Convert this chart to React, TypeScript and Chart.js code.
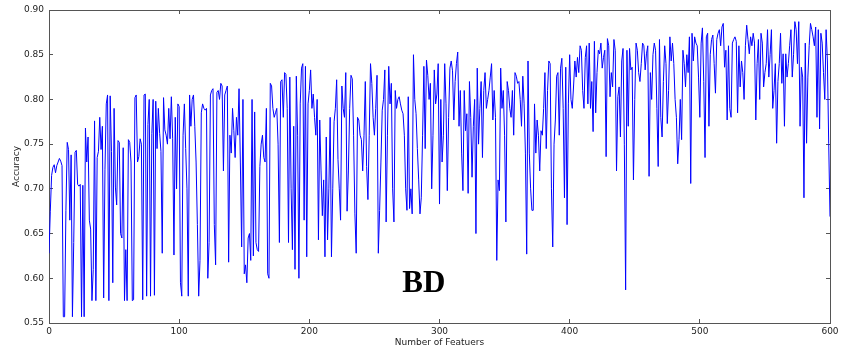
import { useEffect, useRef } from "react";
import { Chart, registerables } from "chart.js";

Chart.register(...registerables);

// Accuracy, one value per feature count 0..600
const ACCURACY: number[] = [
  .628,.675,.715,.724,.727,.718,.726,.730,.734,.731,
  .726,.557,.557,.676,.752,.744,.665,.738,.557,.640,
  .741,.743,.705,.703,.705,.557,.704,.557,.768,.730,
  .758,.665,.655,.575,.610,.776,.575,.735,.742,.780,
  .744,.770,.578,.722,.795,.805,.575,.804,.742,.595,
  .790,.702,.682,.754,.752,.650,.645,.746,.575,.632,
  .575,.755,.752,.730,.575,.576,.802,.805,.730,.736,
  .756,.750,.576,.805,.806,.580,.772,.800,.580,.762,
  .800,.581,.798,.745,.790,.762,.742,.628,.802,.766,
  .760,.750,.790,.756,.803,.756,.626,.780,.700,.795,
  .792,.595,.580,.760,.795,.745,.700,.580,.805,.770,
  .800,.805,.770,.730,.660,.580,.620,.785,.795,.790,
  .788,.790,.600,.640,.805,.810,.812,.660,.615,.808,
  .810,.800,.818,.815,.720,.805,.810,.815,.618,.760,
  .740,.790,.765,.735,.780,.760,.812,.730,.635,.800,
  .605,.615,.595,.645,.650,.620,.800,.625,.786,.640,
  .632,.630,.725,.750,.760,.735,.730,.790,.605,.600,
  .818,.815,.790,.780,.785,.790,.750,.640,.820,.822,
  .780,.830,.828,.790,.640,.825,.700,.632,.770,.610,
  .826,.760,.600,.795,.835,.840,.665,.837,.624,.795,
  .810,.833,.790,.806,.780,.760,.800,.643,.777,.720,
  .670,.710,.624,.758,.643,.700,.780,.624,.700,.775,
  .790,.822,.733,.700,.665,.815,.790,.780,.830,.675,
  .720,.790,.827,.823,.760,.672,.628,.780,.777,.760,
  .755,.720,.760,.820,.725,.688,.760,.840,.818,.780,
  .760,.790,.827,.628,.676,.730,.788,.800,.833,.663,
  .760,.837,.795,.818,.700,.663,.810,.790,.800,.803,
  .795,.788,.784,.760,.700,.676,.803,.678,.700,.672,
  .850,.800,.784,.745,.710,.672,.690,.760,.837,.745,
  .844,.827,.800,.818,.700,.760,.833,.795,.806,.840,
  .683,.800,.730,.760,.840,.795,.698,.780,.835,.843,
  .832,.777,.820,.840,.853,.770,.810,.740,.698,.810,
  .765,.784,.695,.820,.780,.713,.770,.800,.650,.835,
  .750,.790,.820,.735,.810,.830,.790,.800,.810,.825,
  .840,.777,.810,.780,.620,.710,.698,.835,.790,.810,
  .760,.663,.820,.810,.790,.780,.810,.760,.830,.826,
  .818,.820,.800,.770,.826,.795,.740,.627,.843,.740,
  .700,.676,.676,.795,.740,.777,.760,.720,.765,.760,
  .790,.830,.745,.810,.843,.840,.700,.635,.750,.777,
  .826,.830,.760,.835,.846,.790,.690,.836,.660,.795,
  .850,.800,.790,.815,.843,.825,.847,.830,.860,.855,
  .810,.790,.847,.860,.795,.863,.790,.820,.764,.865,
  .785,.830,.855,.851,.863,.835,.847,.855,.736,.868,
  .860,.803,.830,.814,.867,.855,.720,.803,.814,.758,
  .843,.857,.750,.587,.855,.770,.857,.833,.836,.710,
  .800,.863,.855,.830,.820,.840,.863,.860,.833,.851,
  .860,.714,.830,.800,.850,.863,.855,.790,.725,.867,
  .780,.758,.820,.860,.840,.773,.810,.870,.843,.863,
  .840,.800,.780,.728,.755,.800,.755,.855,.840,.814,
  .850,.830,.870,.706,.874,.843,.870,.863,.860,.825,
  .780,.863,.880,.820,.735,.870,.874,.770,.850,.867,
  .872,.840,.807,.867,.874,.878,.860,.881,.885,.836,
  .855,.777,.860,.790,.780,.863,.867,.870,.865,.785,
  .860,.814,.843,.830,.800,.860,.883,.867,.851,.870,
  .860,.874,.863,.777,.840,.867,.800,.874,.863,.814,
  .830,.840,.878,.825,.850,.878,.790,.810,.840,.751,
  .820,.840,.874,.818,.851,.770,.851,.825,.840,.860,
  .878,.825,.850,.887,.878,.840,.887,.770,.836,.825,
  .690,.863,.751,.825,.860,.885,.878,.870,.860,.881,
  .780,.878,.767,.874,.863,.830,.800,.878,.843,.751,
  .669,
];

// Number of features for each accuracy value
const FEATURES: number[] = ACCURACY.map((_, i) => i);

const X_TICKS: number[] = [0, 100, 200, 300, 400, 500, 600];
const Y_TICKS: number[] = [0.55, 0.6, 0.65, 0.7, 0.75, 0.8, 0.85, 0.9];

const X_TITLE = "Number of Featuers";
const Y_TITLE = "Accuracy";
const PANEL_LABEL = "BD";

const FONT = "'DejaVu Sans', sans-serif";
const TEXT = "#222";
const FRAME = "#555";

function noPad(s: any) {
  s.paddingLeft = 0;
  s.paddingRight = 0;
  s.paddingTop = 0;
  s.paddingBottom = 0;
}

export default function App() {
  const ref = useRef<HTMLCanvasElement | null>(null);

  useEffect(() => {
    const canvas = ref.current;
    if (!canvas) return;

    const panelLabel = {
      id: "panelLabel",
      afterDatasetsDraw(chart: any) {
        const { ctx, scales } = chart;
        const x = scales.x.getPixelForValue(288);
        const y = scales.y.getPixelForValue(0.5935);
        ctx.save();
        ctx.fillStyle = "#000";
        ctx.font = "bold 31px 'Liberation Serif', 'DejaVu Serif', serif";
        ctx.textAlign = "center";
        ctx.textBaseline = "middle";
        ctx.fillText(PANEL_LABEL, x, y);
        ctx.restore();
      },
    };

    const tickFont = { family: FONT, size: 9 };
    const gridCommon = {
      drawOnChartArea: false,
      drawTicks: true,
      tickLength: -4,
      color: FRAME,
      lineWidth: 1,
    };
    const borderCommon = { display: true, color: FRAME, width: 1 };

    const chart = new Chart(canvas, {
      type: "line",
      data: {
        labels: FEATURES,
        datasets: [
          {
            data: ACCURACY,
            borderColor: "#0000ff",
            borderWidth: 1,
            pointRadius: 0,
            fill: false,
            tension: 0,
          },
        ],
      },
      options: {
        animation: false,
        responsive: false,
        maintainAspectRatio: false,
        events: [],
        layout: { padding: { left: 0, right: 13, top: 10, bottom: 0 } },
        plugins: {
          legend: { display: false },
          tooltip: { enabled: false },
        },
        scales: {
          x: {
            type: "linear",
            position: "bottom",
            min: 0,
            max: 600,
            afterBuildTicks: (s: any) => {
              s.ticks = X_TICKS.map((v) => ({ value: v }));
            },
            ticks: {
              font: tickFont,
              color: TEXT,
              padding: 7,
              maxRotation: 0,
              autoSkip: false,
              callback: (v: any) => String(v),
            },
            grid: gridCommon,
            border: borderCommon,
            title: {
              display: true,
              text: X_TITLE,
              color: TEXT,
              font: { family: FONT, size: 9 },
              padding: { top: 0, bottom: 11.5 },
            },
            afterFit: (s: any) => {
              s.height = 37;
              noPad(s);
            },
          },
          y: {
            type: "linear",
            position: "left",
            min: 0.55,
            max: 0.9,
            afterBuildTicks: (s: any) => {
              s.ticks = Y_TICKS.map((v) => ({ value: v }));
            },
            ticks: {
              font: tickFont,
              color: TEXT,
              padding: 9,
              autoSkip: false,
              callback: (v: any) => Number(v).toFixed(2),
            },
            grid: gridCommon,
            border: borderCommon,
            title: {
              display: true,
              text: Y_TITLE,
              color: TEXT,
              font: { family: FONT, size: 9 },
              padding: { top: 11.5, bottom: 0 },
            },
            afterFit: (s: any) => {
              s.width = 49;
              noPad(s);
            },
          },
          x2: {
            type: "linear",
            position: "top",
            min: 0,
            max: 600,
            afterBuildTicks: (s: any) => {
              s.ticks = X_TICKS.map((v) => ({ value: v }));
            },
            ticks: { display: false },
            grid: gridCommon,
            border: borderCommon,
            afterFit: (s: any) => {
              s.height = 0;
              noPad(s);
            },
          },
          y2: {
            type: "linear",
            position: "right",
            min: 0.55,
            max: 0.9,
            afterBuildTicks: (s: any) => {
              s.ticks = Y_TICKS.map((v) => ({ value: v }));
            },
            ticks: { display: false },
            grid: gridCommon,
            border: borderCommon,
            afterFit: (s: any) => {
              s.width = 0;
              noPad(s);
            },
          },
        },
      } as any,
      plugins: [panelLabel],
    });

    return () => chart.destroy();
  }, []);

  return (
    <div style={{ position: "absolute", left: 0, top: 0, width: 843, height: 360, background: "#fff" }}>
      <canvas ref={ref} width={843} height={360} style={{ display: "block", width: 843, height: 360 }} />
    </div>
  );
}
